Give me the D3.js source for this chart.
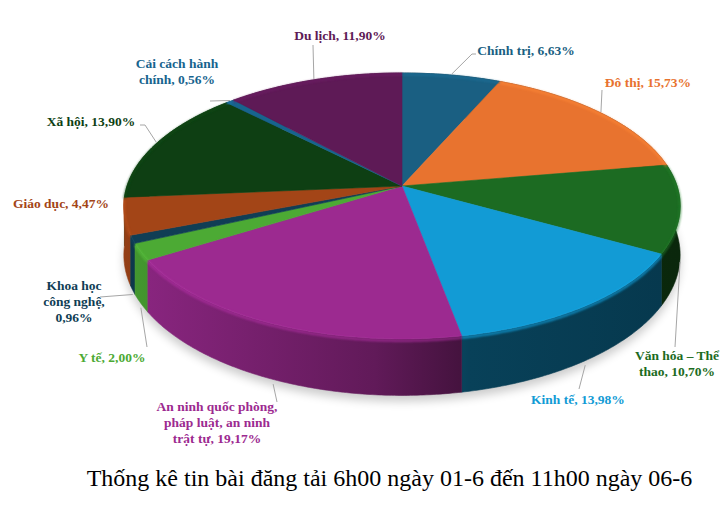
<!DOCTYPE html>
<html>
<head>
<meta charset="utf-8">
<script src="https://cdn.jsdelivr.net/npm/d3@7"></script>
<style>
  body { margin: 0; background: #fff; }
  svg { display: block; }
  .serif { font-family: 'Liberation Serif', 'DejaVu Serif', 'Times New Roman', Times, serif; }
</style>
</head>
<body>
<svg id="drawing_region"></svg>
<script>
// slices, clockwise from 12 o'clock
const categories = ['Chính trị', 'Đô thị', 'Văn hóa – Thể thao', 'Kinh tế',
  'An ninh quốc phòng, pháp luật, an ninh trật tự', 'Y tế', 'Khoa học công nghệ',
  'Giáo dục', 'Xã hội', 'Cải cách hành chính', 'Du lịch'];
const shares = [6.63, 15.73, 10.70, 13.98, 19.17, 2.00, 0.96, 4.47, 13.90, 0.56, 11.90];
const colors = ['#1a5f82', '#e8732f', '#1c6b22', '#129bd5', '#9c2a90', '#4caa34',
  '#103e55', '#a34517', '#0e3f13', '#17648e', '#5e1a56'];
// words per label line
const wordsPerLine = [[4], [3], [4, 2], [3], [4, 4, 3], [3], [2, 2, 1], [3], [3], [3, 2], [3]];
const title = 'Thống kê tin bài đăng tải 6h00 ngày 01-6 đến 11h00 ngày 06-6';

// label placement (centre x, first baseline) and leader start points
const labelPos = [[526, 55], [648, 87], [677, 360], [578, 404], [217, 411], [112, 362],
  [74, 290], [61, 208], [91, 126], [177, 68], [340, 40]];
const leaderStart = [[[476, 54], [472, 54]], [[602, 90]], [[675, 347]], [[579, 389]],
  [[277, 402]], [[147, 347]], [[100, 297]], null, [[140, 125], [145, 125]], [[210, 101]], [[313, 45]]];

const config = {
  width: 727, height: 505,
  cx: 402, cy: 186,      // apex of the top face
  rx: 275, ry: 130,      // projected radii
  persp: 0.15,           // perspective factor
  depth: 48
};

const svg = d3.select('#drawing_region')
  .attr('width', config.width)
  .attr('height', config.height);

const defs = svg.append('defs');
defs.append('filter').attr('id', 'shadow')
  .attr('x', '-20%').attr('y', '-20%').attr('width', '140%').attr('height', '140%')
  .append('feGaussianBlur').attr('stdDeviation', 5);
defs.append('filter').attr('id', 'soft')
  .append('feGaussianBlur').attr('stdDeviation', 0.9);

const color = d3.scaleOrdinal().domain(categories).range(colors);
const locale = d3.formatLocale({ decimal: ',', thousands: '.', grouping: [3] });
const fmt = locale.format('.2f');

const pie = d3.pie().sort(null).value(d => d.value);
const data = categories.map((c, i) => ({ name: c, value: shares[i], index: i }));
const arcs = pie(data);

// project an angle on the rim (d3 pie convention) to screen coords
function proj(a, drop = 0) {
  const u = Math.sin(a), v = -Math.cos(a);
  const s = 1 / (1 - config.persp * v);
  return [config.cx + config.rx * u * s, config.cy + config.ry * v * s + drop * s];
}
function rimPoints(a0, a1, drop) {
  const n = Math.max(2, Math.ceil((a1 - a0) / 0.01));
  return d3.range(n + 1).map(i => proj(a0 + (a1 - a0) * i / n, drop));
}
const line = d3.line();

// shadow under the pie
svg.append('path')
  .attr('d', line(rimPoints(0, 2 * Math.PI, config.depth)) + 'Z')
  .attr('transform', 'translate(0,6)')
  .attr('fill', '#000')
  .attr('opacity', 0.2)
  .attr('filter', 'url(#shadow)');

// side gradients, lit from the left
arcs.forEach(d => {
  const c = color(d.data.name);
  const g = defs.append('linearGradient')
    .attr('id', 'side' + d.index)
    .attr('gradientUnits', 'userSpaceOnUse')
    .attr('x1', 125).attr('x2', 680).attr('y1', 0).attr('y2', 0);
  [[0, 0.9], [0.45, 0.62], [0.62, 0.42], [1, 0.36]].forEach(([o, f]) => {
    const k = d3.rgb(c);
    g.append('stop').attr('offset', o)
      .attr('stop-color', d3.rgb(k.r * f, k.g * f, k.b * f));
  });
});

// side walls, back to front
const walls = arcs.slice().sort((a, b) =>
  -Math.cos((a.startAngle + a.endAngle) / 2) - -Math.cos((b.startAngle + b.endAngle) / 2));
svg.append('g').selectAll('path')
  .data(walls)
  .join('path')
  .attr('d', d => {
    const top = rimPoints(d.startAngle, d.endAngle, 0);
    const bot = rimPoints(d.startAngle, d.endAngle, config.depth).reverse();
    return line(top.concat(bot)) + 'Z';
  })
  .attr('fill', d => `url(#side${d.index})`)
  .attr('stroke', d => `url(#side${d.index})`)
  .attr('stroke-width', 0.6);

// top faces
svg.append('g').selectAll('path')
  .data(arcs)
  .join('path')
  .attr('d', d => line([[config.cx, config.cy]].concat(rimPoints(d.startAngle, d.endAngle, 0))) + 'Z')
  .attr('fill', d => color(d.data.name))
  .attr('stroke', d => color(d.data.name))
  .attr('stroke-width', 0.6);

// bevel highlight along the rim
svg.append('g').selectAll('path')
  .data(arcs)
  .join('path')
  .attr('d', d => line(rimPoints(d.startAngle, d.endAngle, 1.5)))
  .attr('fill', 'none')
  .attr('stroke', d => d3.color(color(d.data.name)).brighter(0.5))
  .attr('stroke-width', 2.5)
  .attr('opacity', 0.6)
  .attr('filter', 'url(#soft)');

// leader lines
svg.append('g').selectAll('polyline')
  .data(arcs.filter(d => leaderStart[d.index]))
  .join('polyline')
  .attr('points', d => {
    const mid = (d.startAngle + d.endAngle) / 2;
    const v = -Math.cos(mid);
    const end = proj(mid, v > 0.1 ? config.depth + 4 : -1);
    return leaderStart[d.index].concat([end]).map(p => p.join(',')).join(' ');
  })
  .attr('fill', 'none')
  .attr('stroke', '#a6a6a6')
  .attr('stroke-width', 1);

// data labels
const labels = svg.append('g')
  .attr('class', 'serif')
  .attr('font-weight', 'bold')
  .attr('font-size', 13.5)
  .attr('text-anchor', 'middle')
  .selectAll('text')
  .data(arcs)
  .join('text')
  .attr('fill', d => color(d.data.name))
  .attr('x', d => labelPos[d.index][0])
  .attr('y', d => labelPos[d.index][1]);

labels.each(function (d) {
  const words = (d.data.name + ', ' + fmt(d.data.value) + '%').split(' ');
  let w = 0;
  wordsPerLine[d.index].forEach((n, li) => {
    d3.select(this).append('tspan')
      .attr('x', labelPos[d.index][0])
      .attr('dy', li === 0 ? 0 : 16)
      .text(words.slice(w, w + n).join(' '));
    w += n;
  });
});

svg.append('text')
  .attr('class', 'serif')
  .attr('x', 389.5)
  .attr('y', 486)
  .attr('text-anchor', 'middle')
  .attr('font-size', 24)
  .attr('fill', '#000')
  .text(title);
</script>
</body>
</html>
